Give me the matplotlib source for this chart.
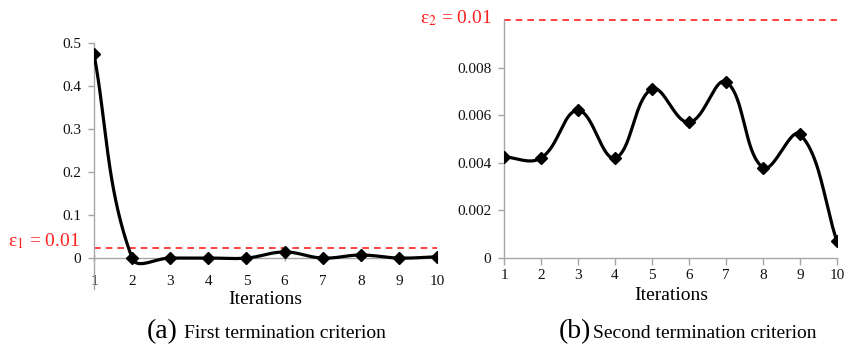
import numpy as np
import matplotlib.pyplot as plt

plt.rcParams['font.family'] = ['Liberation Serif', 'DejaVu Serif']
plt.rcParams['mathtext.fontset'] = 'stix'

iterations = [1, 2, 3, 4, 5, 6, 7, 8, 9, 10]
crit1 = [0.474, 0.0, 0.0, 0.0, 0.0, 0.014, 0.0, 0.007, 0.0, 0.003]
crit2 = [0.00425, 0.0042, 0.0062, 0.0042, 0.0071, 0.0057, 0.0074, 0.0038, 0.0052, 0.0007]
eps1_line = 0.0226
eps2_line = 0.01
yticks1 = [0, 0.1, 0.2, 0.3, 0.4, 0.5]
yticks2 = [0, 0.002, 0.004, 0.006, 0.008]

W, H = 854, 345
fig = plt.figure(figsize=(W / 100, H / 100), dpi=100)

def px_axes(x0, x1, ytop, ybot):
    return fig.add_axes([x0 / W, 1 - ybot / H, (x1 - x0) / W, (ybot - ytop) / H])

def smooth(ax, xs, ys, k=0.4, n=40):
    # excel-like smoothed line, built in screen space
    pts = ax.transData.transform(np.column_stack([xs, ys]))
    out = []
    m = len(pts)
    for i in range(m - 1):
        p0, p1 = pts[i], pts[i + 1]
        prev = pts[i - 1] if i > 0 else None
        nxt = pts[i + 2] if i + 2 < m else None
        d01 = np.linalg.norm(p1 - p0)
        if prev is None:
            c1 = p0 + (p1 - p0) / 3
        else:
            din = np.linalg.norm(p0 - prev)
            c1 = p0 + (p1 - prev) * d01 / (din + d01) * k
        if nxt is None:
            c2 = p1 - (p1 - p0) / 3
        else:
            dout = np.linalg.norm(nxt - p1)
            c2 = p1 - (nxt - p0) * d01 / (d01 + dout) * k
        t = np.linspace(0, 1, n)[:, None]
        seg = ((1 - t) ** 3) * p0 + 3 * ((1 - t) ** 2) * t * c1 + 3 * (1 - t) * t ** 2 * c2 + t ** 3 * p1
        out.append(seg)
    curve = ax.transData.inverted().transform(np.vstack(out))
    ax.plot(curve[:, 0], curve[:, 1], color='black', lw=2.3, solid_capstyle='round', zorder=3)
    ax.plot(xs, ys, linestyle='none', marker='D', color='black', markersize=6, zorder=4)

def style(ax):
    for s in ['top', 'right']:
        ax.spines[s].set_visible(False)
    for s in ['left', 'bottom']:
        ax.spines[s].set_color('#a6a6a6')
        ax.spines[s].set_linewidth(1.0)
    ax.tick_params(colors='#a6a6a6', labelcolor='#111111', labelsize=11, width=1.0)
    ax.set_xticks(iterations)
    ax.set_xlim(1, 10)
    ax.patch.set_alpha(0)

# (a)
ax1 = px_axes(94, 437, 43, 289)
ax1.set_ylim(-0.072, 0.5)
style(ax1)
ax1.spines['bottom'].set_position(('data', 0))
ax1.spines['left'].set_bounds(-0.072, 0.5)
ax1.set_yticks(yticks1)
ax1.set_yticklabels(['0', '0.1', '0.2', '0.3', '0.4', '0.5'])
ax1.tick_params(axis='x', direction='inout', length=5, pad=10)
ax1.tick_params(axis='y', length=4, pad=5)
ax1.axhline(eps1_line, color='#ff2020', lw=1.2, ls=(0, (4, 3)), zorder=2)
smooth(ax1, iterations, crit1)
fig.text(80 / W, 1 - 241 / H, 'ε$_1$ = 0.01', color='#ff2020', fontsize=14,
         ha='right', va='center')
fig.text(265 / W, 1 - 300 / H, 'Iterations', fontsize=14, ha='center', va='center')

# (b)
ax2 = px_axes(504, 837, 20, 258)
ax2.set_ylim(0, 0.01)
style(ax2)
ax2.set_yticks(yticks2)
ax2.set_yticklabels(['0', '0.002', '0.004', '0.006', '0.008'])
ax2.tick_params(axis='x', length=5, pad=3)
ax2.tick_params(axis='y', length=4, pad=5)
ax2.axhline(eps2_line, color='#ff2020', lw=1.2, ls=(0, (4, 3)), zorder=2, clip_on=False)
smooth(ax2, iterations, crit2)
fig.text(492 / W, 1 - 18 / H, 'ε$_2$ = 0.01', color='#ff2020', fontsize=14,
         ha='right', va='center')
fig.text(671 / W, 1 - 295 / H, 'Iterations', fontsize=14, ha='center', va='center')

# captions
fig.text(178 / W, 1 - 338 / H, '(a)', fontsize=20, ha='right', va='baseline')
fig.text(184 / W, 1 - 338 / H, 'First termination criterion', fontsize=14, ha='left', va='baseline')
fig.text(591 / W, 1 - 338 / H, '(b)', fontsize=20, ha='right', va='baseline')
fig.text(593 / W, 1 - 338 / H, 'Second termination criterion', fontsize=14, ha='left', va='baseline')

fig.savefig('out.png', dpi=100)
